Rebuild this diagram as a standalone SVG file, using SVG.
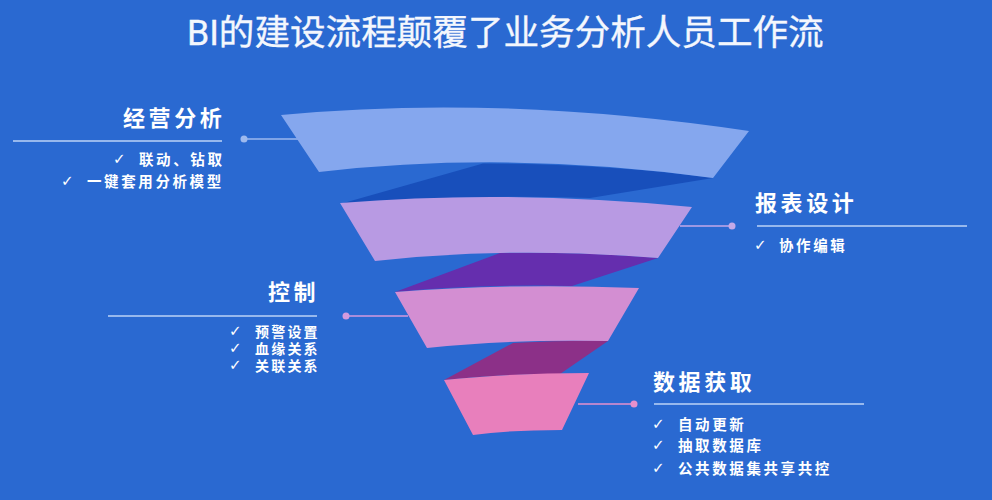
<svg xmlns="http://www.w3.org/2000/svg" width="992" height="500" viewBox="0 0 992 500">
<style>
text{font-family:"Liberation Sans","Noto Sans CJK SC",sans-serif;fill:#fff}
.t{font-family:"Roboto","Noto Sans CJK SC",sans-serif;font-size:35.6px;font-weight:400;fill:#f4f7fd;stroke:#f4f7fd;stroke-width:.35px}
.h{font-family:"Noto Sans CJK SC",sans-serif;font-size:22px;font-weight:700;letter-spacing:3.6px}
.s{font-family:"Noto Sans CJK SC",sans-serif;font-size:14.500px;font-weight:700;letter-spacing:2.600px}
.s2{font-family:"Liberation Sans","Noto Sans CJK SC",sans-serif;font-size:14px;letter-spacing:2.200px}
.c{font-family:"DejaVu Sans",sans-serif;font-size:15px;font-weight:700}
.c2{font-family:"Liberation Sans","DejaVu Sans",sans-serif;font-size:15px;font-weight:700}
.r{stroke:#bcd3f6;stroke-width:1.5;fill:none}
.l{stroke-width:1.5;fill:none}
</style>
<rect width="992" height="500" fill="#2a69d1"/>
<text class="t" x="187" y="45">BI的建设流程颠覆了业务分析人员工作流</text>
<g id="connectors">
<path class="l" d="M244 139H300" stroke="#9db9ee"/><circle cx="244" cy="139" r="3.500" fill="#9db9ee"/>
<path class="l" d="M732 226H680" stroke="#c3a9e8"/><circle cx="732" cy="226" r="3.500" fill="#c3a9e8"/>
<path class="l" d="M346 316H408" stroke="#d39ade"/><circle cx="346" cy="316" r="3.500" fill="#d39ade"/>
<path class="l" d="M634 404H578" stroke="#e690cc"/><circle cx="634" cy="404" r="3.500" fill="#e690cc"/>
</g>
<g id="funnel-shadows">
<path d="M340 204L483 163.500Q610 164 713 178L590 198Q460 194 340 204Z" fill="#184fbb"/>
<path d="M395 292L500 253Q590 252 658 258L572 286Q480 284 395 292Z" fill="#652eae"/>
<path d="M444 380L513 343Q570 340 608 341L560 374Q500 374 444 380Z" fill="#8c3088"/>
</g>
<g id="band-1"><path d="M281 115Q500 94 749 131L713 178Q510 150 319 172Z" fill="#85a7ee"/></g>
<g id="band-2"><path d="M340 203Q510 189 692 207L658 258Q510 246 375 261Z" fill="#b89ae3"/></g>
<g id="band-3"><path d="M395 292Q510 283 639 288L608 341Q510 339 427 348Z" fill="#d38ed2"/></g>
<g id="band-4"><path d="M444 380Q510 373 589 373L562 430Q510 430 473 435Z" fill="#e87fbc"/></g>
<g id="node-analysis">
<text class="h" x="123" y="126">经营分析</text>
<path class="r" d="M13 141H222"/>
<text class="c" x="113" y="164">✓</text><text class="s" x="139" y="165">联动、钻取</text>
<text class="c" x="61" y="186">✓</text><text class="s" x="87" y="187">一键套用分析模型</text>
</g>
<g id="node-report">
<text class="h" x="755" y="211">报表设计</text>
<path class="r" d="M757 226H967"/>
<text class="c" x="754" y="250">✓</text><text class="s" x="779" y="251">协作编辑</text>
</g>
<g id="node-control">
<text class="h" x="268" y="300">控制</text>
<path class="r" d="M108 316H317"/>
<text class="c2"><tspan x="229" y="336">✓</tspan><tspan x="229" y="353">✓</tspan><tspan x="229" y="370">✓</tspan></text>
<text class="s2" font-weight="700"><tspan x="255" y="337">预警设置</tspan><tspan x="255" y="354">血缘关系</tspan><tspan x="255" y="371">关联关系</tspan></text>
</g>
<g id="node-data">
<text class="h" x="653" y="390">数据获取</text>
<path class="r" d="M654 404H864"/>
<text class="c" x="652" y="429">✓</text><text class="s" x="678" y="430">自动更新</text>
<text class="c" x="652" y="450">✓</text><text class="s" x="678" y="451">抽取数据库</text>
<text class="c" x="652" y="473">✓</text><text class="s" x="678" y="474">公共数据集共享共控</text>
</g>
</svg>
